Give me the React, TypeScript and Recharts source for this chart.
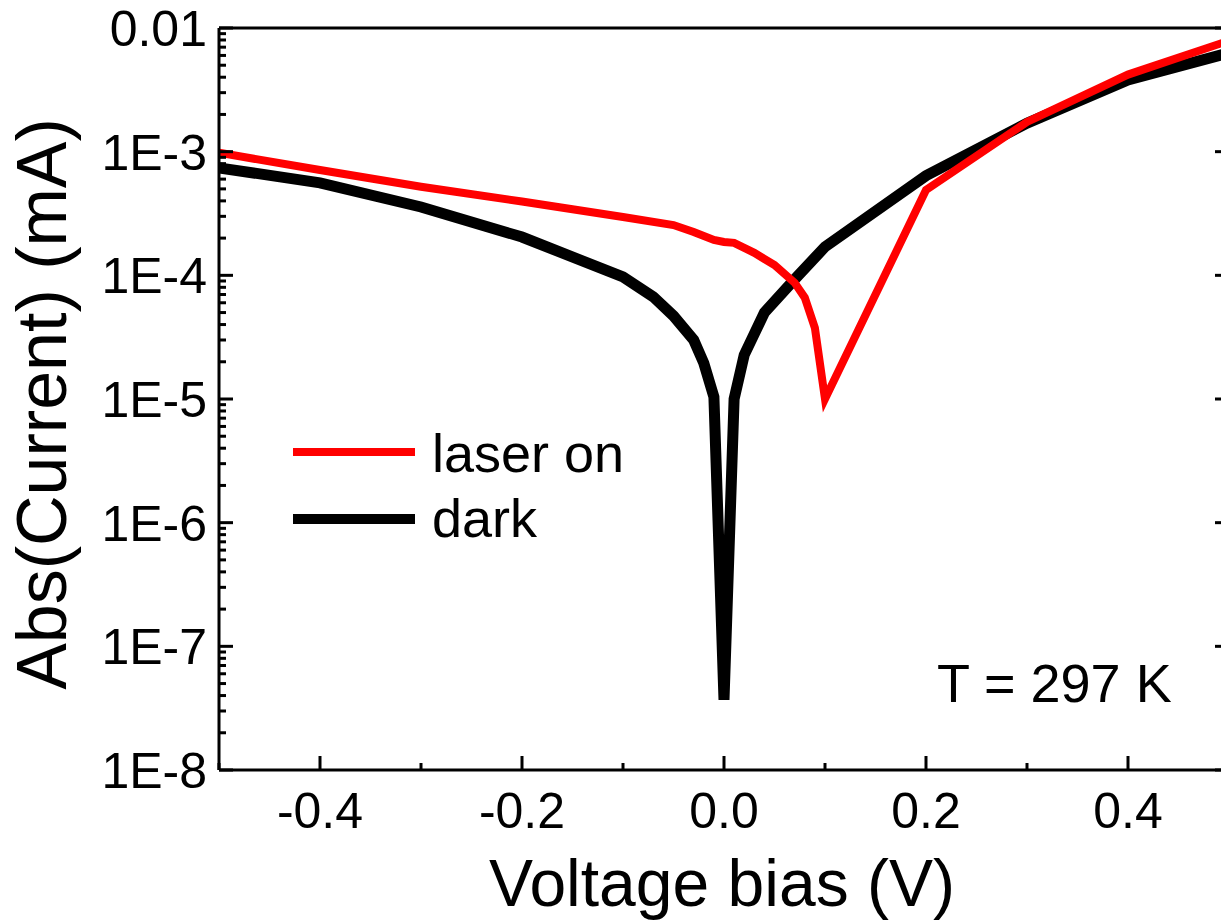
import React from "react";
import { LineChart, Line, XAxis, YAxis } from "recharts";

// laser on (red)
const laserV = [-0.5, -0.4, -0.3, -0.2, -0.1, -0.05, -0.03, -0.01, 0, 0.01, 0.03, 0.05, 0.07, 0.08, 0.09, 0.1, 0.2, 0.3, 0.4, 0.5];
const laserI = [9.8e-4, 7.1e-4, 5.2e-4, 3.95e-4, 2.96e-4, 2.55e-4, 2.24e-4, 1.93e-4, 1.86e-4, 1.83e-4, 1.52e-4, 1.21e-4, 8.7e-5, 6.6e-5, 3.75e-5, 1.0e-5, 4.9e-4, 1.74e-3, 4.2e-3, 7.9e-3];

// dark (black)
const darkV = [-0.5, -0.4, -0.3, -0.2, -0.1, -0.07, -0.05, -0.03, -0.02, -0.01, 0, 0.01, 0.02, 0.04, 0.07, 0.1, 0.2, 0.3, 0.4, 0.5];
const darkI = [7.4e-4, 5.6e-4, 3.57e-4, 2.04e-4, 9.7e-5, 6.7e-5, 4.7e-5, 3.0e-5, 1.95e-5, 1.04e-5, 3.7e-8, 1.0e-5, 2.27e-5, 5.0e-5, 9.3e-5, 1.7e-4, 6.4e-4, 1.7e-3, 3.8e-3, 6.3e-3];

const xTicks = [-0.5, -0.4, -0.3, -0.2, -0.1, 0, 0.1, 0.2, 0.3, 0.4, 0.5];
const xMajor = [-0.4, -0.2, 0, 0.2, 0.4];
const xLabels = ["-0.4", "-0.2", "0.0", "0.2", "0.4"];

const yMajor = [1e-8, 1e-7, 1e-6, 1e-5, 1e-4, 1e-3, 1e-2];
const yLabels = ["1E-8", "1E-7", "1E-6", "1E-5", "1E-4", "1E-3", "0.01"];
const yMinorSteps = [2, 3, 4, 5, 6, 7, 8, 9];

const laserData = laserV.map((v, i) => ({ v, i: laserI[i] }));
const darkData = darkV.map((v, i) => ({ v, i: darkI[i] }));

const yTicks: number[] = [];
yMajor.forEach((m, k) => {
  yTicks.push(m);
  if (k < yMajor.length - 1) yMinorSteps.forEach((s) => yTicks.push(m * s));
});

const FONT = "'Liberation Sans', Arial, sans-serif";
const MAJOR = 14;
const MINOR = 7;

const xIdx = (v: number) => xMajor.findIndex((m) => Math.abs(m - v) < 1e-9);
const yIdx = (v: number) => yMajor.findIndex((m) => Math.abs(v / m - 1) < 1e-6);

const BottomTick = (props: any) => {
  const { x, y, payload } = props;
  const k = xIdx(payload.value);
  return (
    <g>
      <line x1={x} x2={x} y1={y} y2={y - (k >= 0 ? MAJOR : MINOR)} stroke="#000" strokeWidth={3} />
      {k >= 0 && (
        <text x={x} y={y + 58} textAnchor="middle" fontSize={50} fontFamily={FONT} fill="#000">
          {xLabels[k]}
        </text>
      )}
    </g>
  );
};

const TopTick = (props: any) => {
  const { x, y, payload } = props;
  const k = xIdx(payload.value);
  return <line x1={x} x2={x} y1={y} y2={y + (k >= 0 ? MAJOR : MINOR)} stroke="#000" strokeWidth={3} />;
};

const LeftTick = (props: any) => {
  const { x, y, payload } = props;
  const k = yIdx(payload.value);
  return (
    <g>
      <line x1={x} x2={x + (k >= 0 ? MAJOR : MINOR)} y1={y} y2={y} stroke="#000" strokeWidth={3} />
      {k >= 0 && (
        <text x={x - 12} y={y + 18} textAnchor="end" fontSize={50} fontFamily={FONT} fill="#000">
          {yLabels[k]}
        </text>
      )}
    </g>
  );
};

const RightTick = (props: any) => {
  const { x, y, payload } = props;
  const k = yIdx(payload.value);
  return <line x1={x} x2={x - (k >= 0 ? MAJOR : MINOR)} y1={y} y2={y} stroke="#000" strokeWidth={3} />;
};

const axisLine = { stroke: "#000", strokeWidth: 3 };

export default function App() {
  return (
    <div
      style={{
        position: "absolute",
        left: 0,
        top: 0,
        width: 1221,
        height: 921,
        overflow: "hidden",
        background: "#fff",
      }}
    >
      <LineChart width={1240} height={921} margin={{ top: 0, right: 0, bottom: 0, left: 0 }}>
        <XAxis
          xAxisId="b"
          type="number"
          dataKey="v"
          domain={[-0.5, 0.5]}
          ticks={xTicks}
          interval={0}
          height={151}
          tickSize={0}
          tickMargin={0}
          tickLine={false}
          axisLine={axisLine}
          tick={<BottomTick />}
          allowDataOverflow
          label={{
            content: () => (
              <text x={722} y={906} textAnchor="middle" fontSize={66} fontFamily={FONT} fill="#000">
                Voltage bias (V)
              </text>
            ),
          }}
        />
        <XAxis
          xAxisId="t"
          orientation="top"
          type="number"
          domain={[-0.5, 0.5]}
          ticks={xTicks}
          interval={0}
          height={28}
          tickSize={0}
          tickMargin={0}
          tickLine={false}
          axisLine={axisLine}
          tick={<TopTick />}
          allowDataOverflow
        />
        <YAxis
          yAxisId="l"
          type="number"
          scale="log"
          dataKey="i"
          domain={[1e-8, 1e-2]}
          ticks={yTicks}
          interval={0}
          width={219}
          tickSize={0}
          tickMargin={0}
          tickLine={false}
          axisLine={axisLine}
          tick={<LeftTick />}
          allowDataOverflow
          label={{
            content: () => (
              <text
                x={66}
                y={404}
                transform="rotate(-90, 66, 404)"
                textAnchor="middle"
                fontSize={70}
                fontFamily={FONT}
                fill="#000"
              >
                Abs(Current) (mA)
              </text>
            ),
          }}
        />
        <YAxis
          yAxisId="r"
          orientation="right"
          type="number"
          scale="log"
          domain={[1e-8, 1e-2]}
          ticks={yTicks}
          interval={0}
          width={11}
          tickSize={0}
          tickMargin={0}
          tickLine={false}
          axisLine={axisLine}
          tick={<RightTick />}
          allowDataOverflow
        />
        <Line
          xAxisId="b"
          yAxisId="l"
          data={darkData}
          dataKey="i"
          type="linear"
          stroke="#000"
          strokeWidth={11}
          dot={false}
          activeDot={false}
          isAnimationActive={false}
        />
        <Line
          xAxisId="b"
          yAxisId="l"
          data={laserData}
          dataKey="i"
          type="linear"
          stroke="#ff0000"
          strokeWidth={8}
          dot={false}
          activeDot={false}
          isAnimationActive={false}
        />
      </LineChart>

      {/* legend */}
      <div style={{ position: "absolute", left: 293, top: 448, width: 122, height: 8, background: "#ff0000" }} />
      <div style={{ position: "absolute", left: 293, top: 514, width: 122, height: 10, background: "#000" }} />
      <div style={{ position: "absolute", left: 432, top: 422, fontSize: 54, fontFamily: FONT, lineHeight: "62px" }}>
        laser on
      </div>
      <div style={{ position: "absolute", left: 432, top: 487, fontSize: 54, fontFamily: FONT, lineHeight: "62px" }}>
        dark
      </div>

      <div style={{ position: "absolute", left: 937, top: 652, fontSize: 54, fontFamily: FONT, lineHeight: "62px" }}>
        T = 297 K
      </div>
    </div>
  );
}
